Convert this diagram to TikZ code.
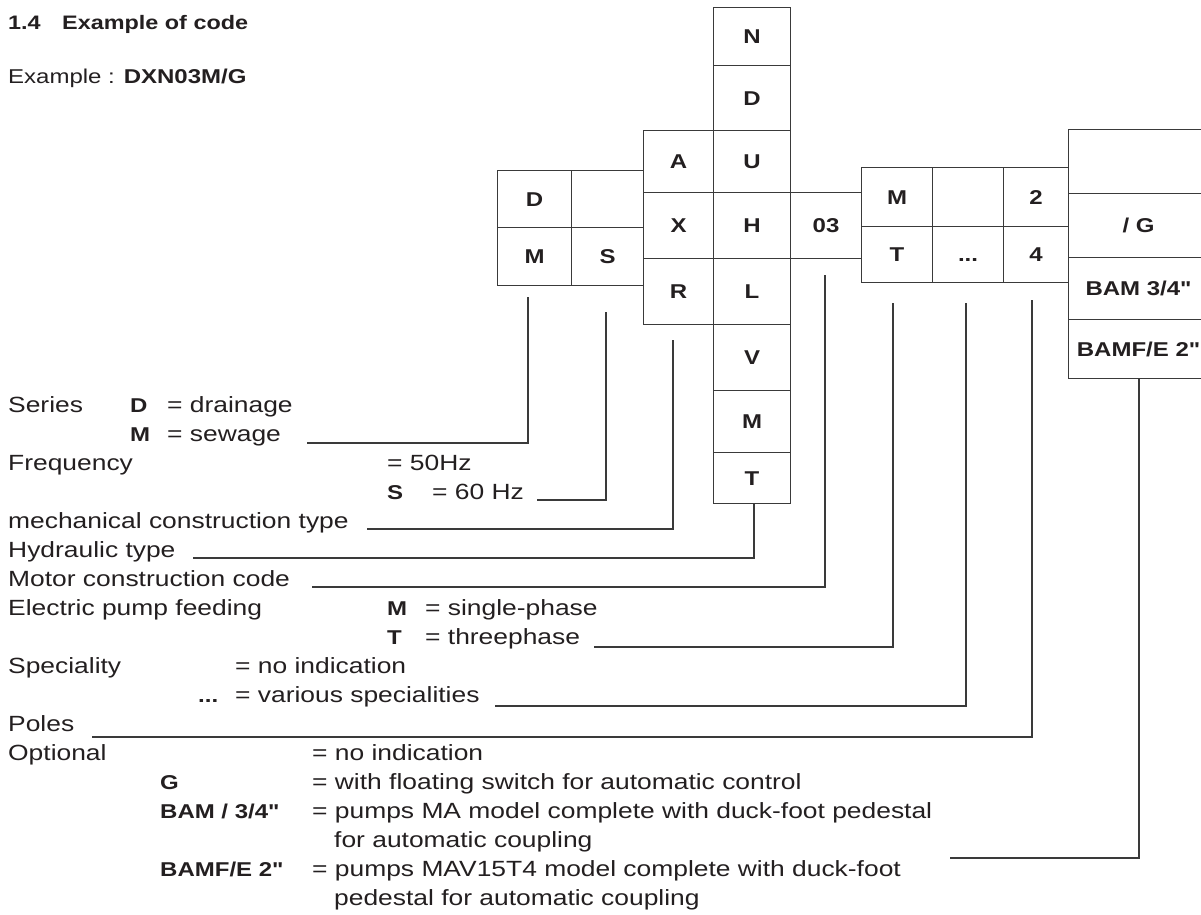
\documentclass[tikz,border=0pt]{standalone}
\usepackage{fontspec}
\setmainfont[FakeStretch=1.2,Ligatures=TeXOff]{Liberation Sans}
\definecolor{ink}{HTML}{231F20}
\definecolor{lc}{HTML}{3A3A3A}
\newcommand\cell[6]{\node[box,minimum width=#4pt,minimum height=#5pt] (#1) at (#2,#3) {#6};}
\begin{document}
\begin{tikzpicture}[x=1pt,y=-1pt,
  txt/.style={anchor=base west,inner sep=0pt,font=\fontsize{22}{26}\selectfont,text=ink},
  lbl/.style={anchor=base west,inner sep=0pt,font=\fontsize{20}{24}\selectfont\bfseries,text=ink},
  ttl/.style={anchor=base west,inner sep=0pt,font=\fontsize{20}{24}\selectfont,text=ink},
  box/.style={draw=lc,line width=1.1pt,inner sep=0pt,anchor=north west,
    font=\fontsize{20}{24}\selectfont\bfseries,text=ink,text height=14pt,text depth=0pt},
  conn/.style={draw=lc,line width=1.1pt}]
\useasboundingbox (0,0) rectangle (1201,914);

% title
\node[ttl,font=\fontsize{19.5}{23}\selectfont\bfseries] (h1) at (8,29) {1.4};
\node[ttl,font=\fontsize{19.5}{23}\selectfont\bfseries] (h2) at (62,29) {Example of code};
\node[ttl] (h3) at (8,83) {Example : \textbf{DXN03M/G}};

% code boxes
\cell{bD}{497}{170}{74}{57}{D}
\cell{bM}{497}{227}{74}{58}{M}
\cell{bE}{571}{170}{72}{57}{}
\cell{bS}{571}{227}{72}{58}{S}
\cell{bA}{643}{130}{70}{62}{A}
\cell{bX}{643}{192}{70}{66}{X}
\cell{bR}{643}{258}{70}{66}{R}
\cell{cN}{713}{7}{77}{58}{N}
\cell{cD}{713}{65}{77}{65}{D}
\cell{cU}{713}{130}{77}{62}{U}
\cell{cH}{713}{192}{77}{66}{H}
\cell{cL}{713}{258}{77}{66}{L}
\cell{cV}{713}{324}{77}{66}{V}
\cell{cM}{713}{390}{77}{62}{M}
\cell{cT}{713}{452}{77}{51}{T}
\cell{b03}{790}{192}{71}{66}{03}
\cell{fM}{861}{167}{71}{59}{M}
\cell{fT}{861}{226}{71}{56}{T}
\cell{sE}{932}{167}{71}{59}{}
\cell{sD}{932}{226}{71}{56}{...}
\cell{p2}{1003}{167}{65}{59}{2}
\cell{p4}{1003}{226}{65}{56}{4}
\cell{o1}{1068}{129}{140}{64}{}
\cell{oG}{1068}{193}{140}{64}{/ G}
\cell{oB}{1068}{257}{140}{62}{BAM 3/4"}
\cell{oF}{1068}{319}{140}{59}{BAMF/E 2"}

% legend texts
\node[txt] (tSer) at (8,412) {Series};
\node[lbl] (tSD) at (130,412) {D};
\node[txt] (tSDd) at (167,412) {= drainage};
\node[lbl] (tSM) at (130,441) {M};
\node[txt] (tSMd) at (167,441) {= sewage};
\node[txt] (tFr) at (8,470) {Frequency};
\node[txt] (tF50) at (387,470) {= 50Hz};
\node[lbl] (tFS) at (387,499) {S};
\node[txt] (tF60) at (432,499) {= 60 Hz};
\node[txt] (tMech) at (8,528) {mechanical construction type};
\node[txt] (tHyd) at (8,557) {Hydraulic type};
\node[txt] (tMot) at (8,586) {Motor construction code};
\node[txt] (tEl) at (8,615) {Electric pump feeding};
\node[lbl] (tElM) at (387,615) {M};
\node[txt] (tElMd) at (425,615) {= single-phase};
\node[lbl] (tElT) at (387,644) {T};
\node[txt] (tElTd) at (425,644) {= threephase};
\node[txt] (tSp) at (8,673) {Speciality};
\node[txt] (tSp0) at (235,673) {= no indication};
\node[lbl] (tSpD) at (198,702) {...};
\node[txt] (tSpDd) at (235,702) {= various specialities};
\node[txt] (tPol) at (8,731) {Poles};
\node[txt] (tOpt) at (8,760) {Optional};
\node[txt] (tOpt0) at (312,760) {= no indication};
\node[lbl] (tOG) at (160,789) {G};
\node[txt] (tOGd) at (312,789) {= with floating switch for automatic control};
\node[lbl] (tOB) at (160,818) {BAM / 3/4"};
\node[txt] (tOBd) at (312,818) {= pumps MA model complete with duck-foot pedestal};
\node[txt] (tOBd2) at (334,847) {for automatic coupling};
\node[lbl] (tOF) at (160,876) {BAMF/E 2"};
\node[txt] (tOFd) at (312,876) {= pumps MAV15T4 model complete with duck-foot};
\node[txt] (tOFd2) at (334,905) {pedestal for automatic coupling};

% connector ends
\coordinate (k1a) at (528,297);  \coordinate (k1b) at (307,443);
\coordinate (k2a) at (606,312);  \coordinate (k2b) at (537,500);
\coordinate (k3a) at (673,340);  \coordinate (k3b) at (367,529);
\coordinate (k4a) at (754,503);  \coordinate (k4b) at (193,558);
\coordinate (k5a) at (825,275);  \coordinate (k5b) at (312,587);
\coordinate (k6a) at (893,303);  \coordinate (k6b) at (594,647);
\coordinate (k7a) at (966,303);  \coordinate (k7b) at (495,706);
\coordinate (k8a) at (1032,300); \coordinate (k8b) at (92,737);
\coordinate (k9a) at (1139,378); \coordinate (k9b) at (950,858);

\draw[conn] (k1a) |- (k1b);
\draw[conn] (k2a) |- (k2b);
\draw[conn] (k3a) |- (k3b);
\draw[conn] (k4a) |- (k4b);
\draw[conn] (k5a) |- (k5b);
\draw[conn] (k6a) |- (k6b);
\draw[conn] (k7a) |- (k7b);
\draw[conn] (k8a) |- (k8b);
\draw[conn] (k9a) |- (k9b);
\end{tikzpicture}
\end{document}
